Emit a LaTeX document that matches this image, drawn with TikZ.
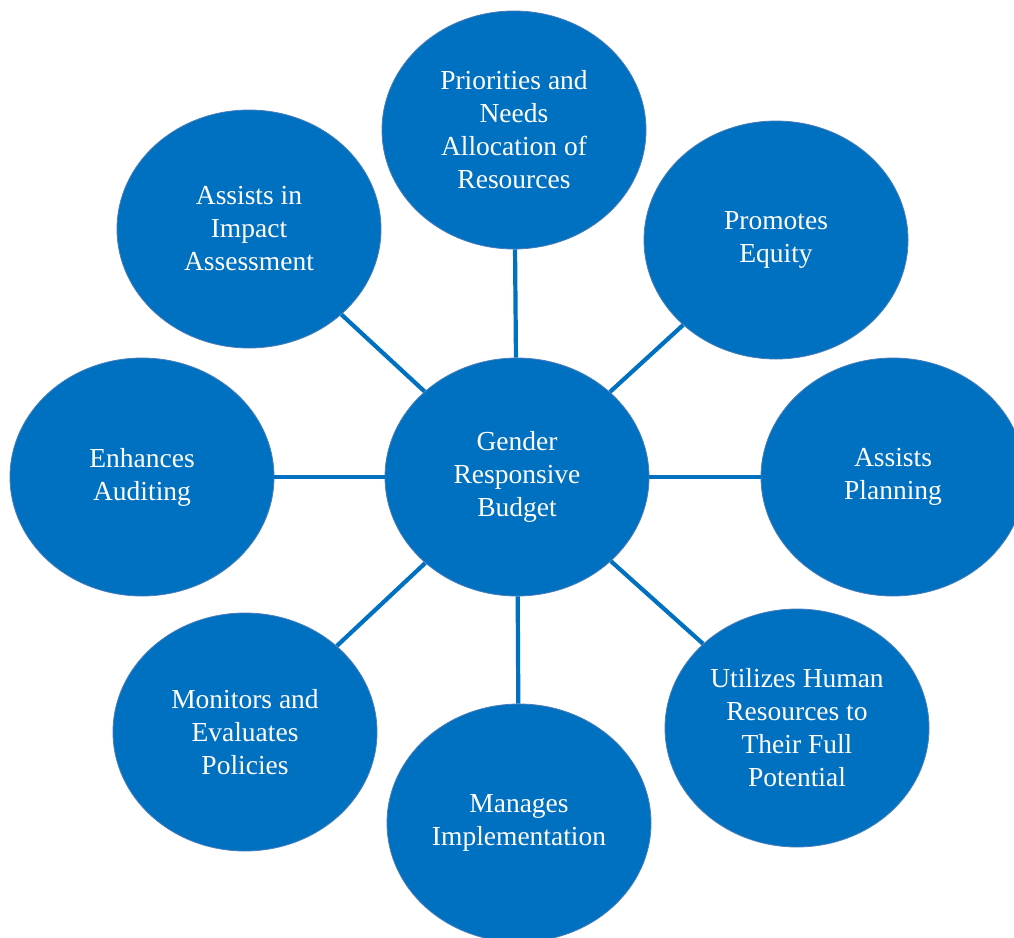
\documentclass[tikz,border=0pt]{standalone}
\usepackage{fontspec}
\setmainfont{Liberation Serif}
\newfontfamily\grbfont{Liberation Serif}
\usepackage{xcolor}
\usepackage{tikz}
\usetikzlibrary{shapes.geometric,positioning}

\definecolor{grbBlue}{HTML}{0070C0}
\definecolor{grbEdge}{HTML}{4A7EBB}

\tikzset{
    bubble/.style={ellipse, fill=grbBlue, draw=grbEdge, line width=0.8pt,
        minimum width=264, minimum height=238, inner sep=0pt,
        text=white, align=center,
        font=\grbfont\fontsize{27.5}{33}\selectfont},
    spoke/.style={draw=grbBlue, line width=4.2pt}
}

\begin{document}
\begin{tikzpicture}[x=1pt, y=-1pt]
    % page frame
    \useasboundingbox (0,0) rectangle (1014,937);
    \clip (0,0) rectangle (1014,937);

    % hub
    \node[bubble] (hub) at (517,477) {Gender\\Responsive\\Budget};

    % surrounding bubbles
    \node[bubble] (needs)   at (514,130) {Priorities and\\Needs\\Allocation of\\Resources};
    \node[bubble] (equity)  at (776,240) {Promotes\\Equity};
    \node[bubble] (plan)    at (893,477) {Assists\\Planning};
    \node[bubble] (human)   at (797,728) {Utilizes Human\\Resources to\\Their Full\\Potential};
    \node[bubble] (manage)  at (519,823) {Manages\\Implementation};
    \node[bubble] (monitor) at (245,732) {Monitors and\\Evaluates\\Policies};
    \node[bubble] (audit)   at (142,477) {Enhances\\Auditing};
    \node[bubble] (impact)  at (249,229) {Assists in\\Impact\\Assessment};

    % spokes
    \foreach \n in {needs,equity,plan,human,manage,monitor,audit,impact}
        \draw[spoke] (hub) -- (\n);
\end{tikzpicture}
\end{document}
